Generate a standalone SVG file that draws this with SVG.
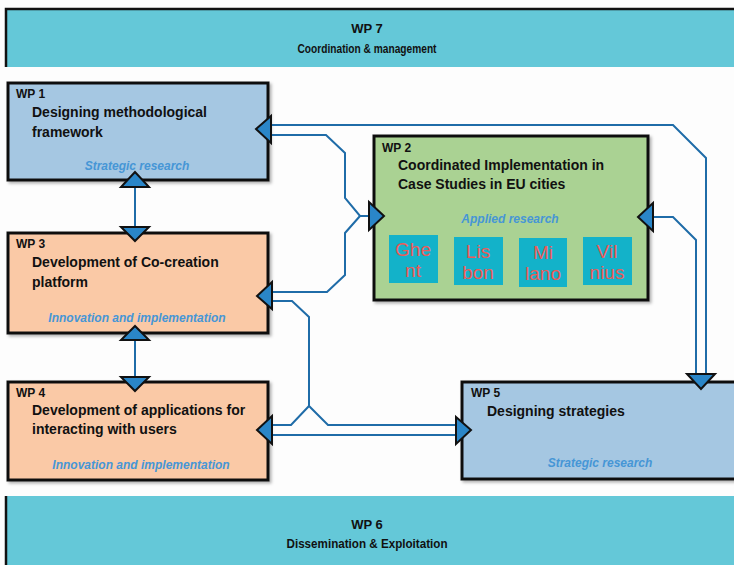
<svg xmlns="http://www.w3.org/2000/svg" width="734" height="565" viewBox="0 0 734 565">
  <style>
    text { font-family: "Liberation Sans", Arial, sans-serif; fill: #111; }
    .hdr { font-size: 13px; font-weight: bold; text-anchor: middle; }
    .wp { font-size: 12px; font-weight: bold; }
    .title { font-size: 14px; font-weight: bold; }
    .tag { font-size: 12px; font-weight: bold; font-style: italic; fill: #4696d6; text-anchor: middle; }
    .city { font-size: 19px; fill: #ee5a58; text-anchor: middle; }
    .box { stroke: #111; stroke-width: 3; filter: url(#shadow); }
    .blue { fill: #a5c7e2; }
    .peach { fill: #fac9a6; }
    .green { fill: #aad293; }
    .citybox { fill: #13b2c9; }
    .band { fill: #64c8d8; }
    .wire { fill: none; stroke: #1f6ca8; stroke-width: 2; stroke-linejoin: miter; }
    .head { fill: #2a86c8; stroke: #111; stroke-width: 2; stroke-linejoin: miter; }
  </style>
  <defs>
    <filter id="shadow" x="-5%" y="-5%" width="115%" height="120%">
      <feDropShadow dx="2" dy="2" stdDeviation="1.5" flood-color="#000" flood-opacity="0.3"/>
    </filter>
  </defs>

  <rect width="734" height="565" fill="#fdfdfd"/>

  <!-- coordination band -->
  <g id="wp7">
    <rect class="band" x="5" y="8" width="740" height="59"/>
    <path d="M6,67 V9 H734" fill="none" stroke="#111" stroke-width="2.5"/>
    <text class="hdr" x="367" y="33">WP 7</text>
    <text class="hdr" x="367" y="53" textLength="139" lengthAdjust="spacingAndGlyphs">Coordination &amp; management</text>
  </g>

  <!-- dissemination band -->
  <g id="wp6">
    <rect class="band" x="5" y="496" width="740" height="70"/>
    <path d="M6,496 V565" fill="none" stroke="#111" stroke-width="2.5"/>
    <text class="hdr" x="367" y="529">WP 6</text>
    <text class="hdr" x="367" y="548" textLength="161" lengthAdjust="spacingAndGlyphs">Dissemination &amp; Exploitation</text>
  </g>

  <g id="wp1">
    <rect class="box blue" x="8" y="83" width="260" height="97"/>
    <text class="wp" x="16" y="98">WP 1</text>
    <text class="title" x="32" y="117">Designing methodological</text>
    <text class="title" x="32" y="137">framework</text>
    <text class="tag" x="137" y="170">Strategic research</text>
  </g>

  <g id="wp3">
    <rect class="box peach" x="8" y="233" width="260" height="100"/>
    <text class="wp" x="16" y="248">WP 3</text>
    <text class="title" x="32" y="267">Development of Co-creation</text>
    <text class="title" x="32" y="287">platform</text>
    <text class="tag" x="137" y="322">Innovation and implementation</text>
  </g>

  <g id="wp4">
    <rect class="box peach" x="8" y="382" width="260" height="98"/>
    <text class="wp" x="16" y="397">WP 4</text>
    <text class="title" x="32" y="415">Development of applications for</text>
    <text class="title" x="32" y="434">interacting with users</text>
    <text class="tag" x="141" y="469">Innovation and implementation</text>
  </g>

  <g id="wp2">
    <rect class="box green" x="374" y="136" width="274" height="164"/>
    <text class="wp" x="382" y="152">WP 2</text>
    <text class="title" x="398" y="170">Coordinated Implementation in</text>
    <text class="title" x="398" y="189">Case Studies in EU cities</text>
    <text class="tag" x="510" y="223">Applied research</text>
    <g id="ghent">
      <rect class="citybox" x="389" y="235" width="49" height="48"/>
      <text class="city" x="413" y="256">Ghe</text>
      <text class="city" x="413" y="277">nt</text>
    </g>
    <g id="lisbon">
      <rect class="citybox" x="454" y="237" width="49" height="48"/>
      <text class="city" x="478" y="258">Lis</text>
      <text class="city" x="478" y="279">bon</text>
    </g>
    <g id="milano">
      <rect class="citybox" x="519" y="238" width="48" height="49"/>
      <text class="city" x="543" y="259">Mi</text>
      <text class="city" x="543" y="280">lano</text>
    </g>
    <g id="vilnius">
      <rect class="citybox" x="583" y="237" width="49" height="48"/>
      <text class="city" x="607" y="258">Vil</text>
      <text class="city" x="607" y="279">nius</text>
    </g>
  </g>

  <g id="wp5">
    <rect class="box blue" x="462" y="382" width="290" height="97"/>
    <text class="wp" x="471" y="397">WP 5</text>
    <text class="title" x="487" y="416">Designing strategies</text>
    <text class="tag" x="600" y="467">Strategic research</text>
  </g>

  <g id="connectors">
    <!-- WP1 <-> WP3 -->
    <path class="wire" d="M135,187 V227"/>
    <!-- WP3 <-> WP4 -->
    <path class="wire" d="M135,340 V377"/>
    <!-- WP1 <-> WP5 -->
    <path class="wire" d="M271,125 H673 L706,158 V375"/>
    <!-- WP1 / WP3 <-> WP2 -->
    <path class="wire" d="M271,135 H326 L345,153 V198 L360,216 H369"/>
    <path class="wire" d="M360,216 L345,233 V275 L327,292 H272"/>
    <!-- WP3 / WP4 <-> WP5 -->
    <path class="wire" d="M272,301 H292 L309,317 V406"/>
    <path class="wire" d="M272,425 H291 L309,406 L328,425 H457"/>
    <path class="wire" d="M272,435 H457"/>
    <!-- WP2 <-> WP5 -->
    <path class="wire" d="M653,217 H673 L696,240 V375"/>

    <!-- arrowheads -->
    <polygon class="head" points="135,172 121,187 149,187"/>
    <polygon class="head" points="121,227 149,227 135,241"/>
    <polygon class="head" points="135,326 121,340 149,340"/>
    <polygon class="head" points="121,377 149,377 135,391"/>
    <polygon class="head" points="256,129 271,116 271,143"/>
    <polygon class="head" points="257,296 272,282 272,309"/>
    <polygon class="head" points="257,430 272,416 272,444"/>
    <polygon class="head" points="369,202 384,216 369,230"/>
    <polygon class="head" points="638,217 653,203 653,231"/>
    <polygon class="head" points="456,417 471,430 456,444"/>
    <polygon class="head" points="687,374 715,374 701,389"/>
  </g>
</svg>
